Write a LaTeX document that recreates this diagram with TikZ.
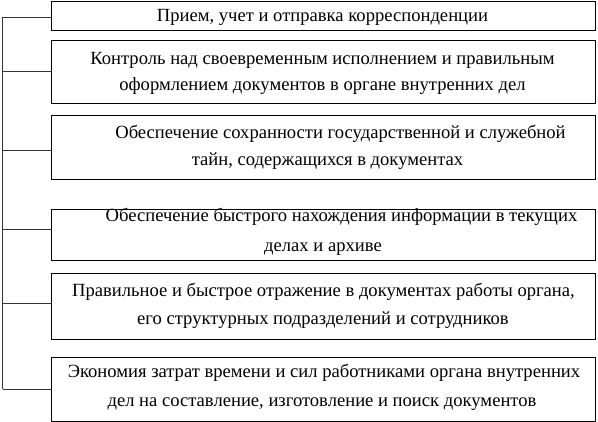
\documentclass[tikz,border=0pt]{standalone}
\usepackage{fontspec}
\setmainfont{Liberation Serif}
\begin{document}
\begin{tikzpicture}[x=1pt,y=-1pt,
  box/.style={draw=black,line width=1.2pt,rectangle,inner sep=0pt,anchor=north west},
  txt/.style={anchor=base,inner sep=0pt,font=\fontsize{18.6}{22}\selectfont},
  link/.style={draw=black!80,line width=0.9pt}]
\useasboundingbox (0,0) rectangle (598,422);
% boxes
\node[box,minimum width=544pt,minimum height=29pt] (b1) at (51,1) {};
\node[box,minimum width=544pt,minimum height=63pt] (b2) at (51,40) {};
\node[box,minimum width=544pt,minimum height=64pt] (b3) at (51,115) {};
\node[box,minimum width=544pt,minimum height=51pt] (b4) at (51,209) {};
\node[box,minimum width=544pt,minimum height=66pt] (b5) at (51,273) {};
\node[box,minimum width=544pt,minimum height=64pt] (b6) at (51,357) {};
% texts
\node[txt] (t1) at (322.5,22) {Прием, учет и отправка корреспонденции};
\node[txt] (t2a) at (322.5,65) {Контроль над своевременным исполнением и правильным};
\node[txt] (t2b) at (322.5,91) {оформлением документов в органе внутренних дел};
\node[txt] (t3a) at (340.5,139) {Обеспечение сохранности государственной и служебной};
\node[txt] (t3b) at (327.5,166) {тайн, содержащихся в документах};
\node[txt] (t4a) at (341.5,222) {Обеспечение быстрого нахождения информации в текущих};
\node[txt] (t4b) at (323,252) {делах и архиве};
\node[txt] (t5a) at (323.5,297) {Правильное и быстрое отражение в документах работы органа,};
\node[txt] (t5b) at (323,325) {его структурных подразделений и сотрудников};
\node[txt] (t6a) at (324,378) {Экономия затрат времени и сил работниками органа внутренних};
\node[txt] (t6b) at (322,407) {дел на составление, изготовление и поиск документов};
% spine
\coordinate (s1) at (2.5,17);
\coordinate (s2) at (2.5,71);
\coordinate (s3) at (2.5,150);
\coordinate (s4) at (2.5,229);
\coordinate (s5) at (2.5,303);
\coordinate (s6) at (2.5,389);
\draw[link] (s1) -- (s6);
\draw[link] (s1) -- (s1 -| b1.west);
\draw[link] (s2) -- (s2 -| b2.west);
\draw[link] (s3) -- (s3 -| b3.west);
\draw[link] (s4) -- (s4 -| b4.west);
\draw[link] (s5) -- (s5 -| b5.west);
\draw[link] (s6) -- (s6 -| b6.west);
\end{tikzpicture}
\end{document}
